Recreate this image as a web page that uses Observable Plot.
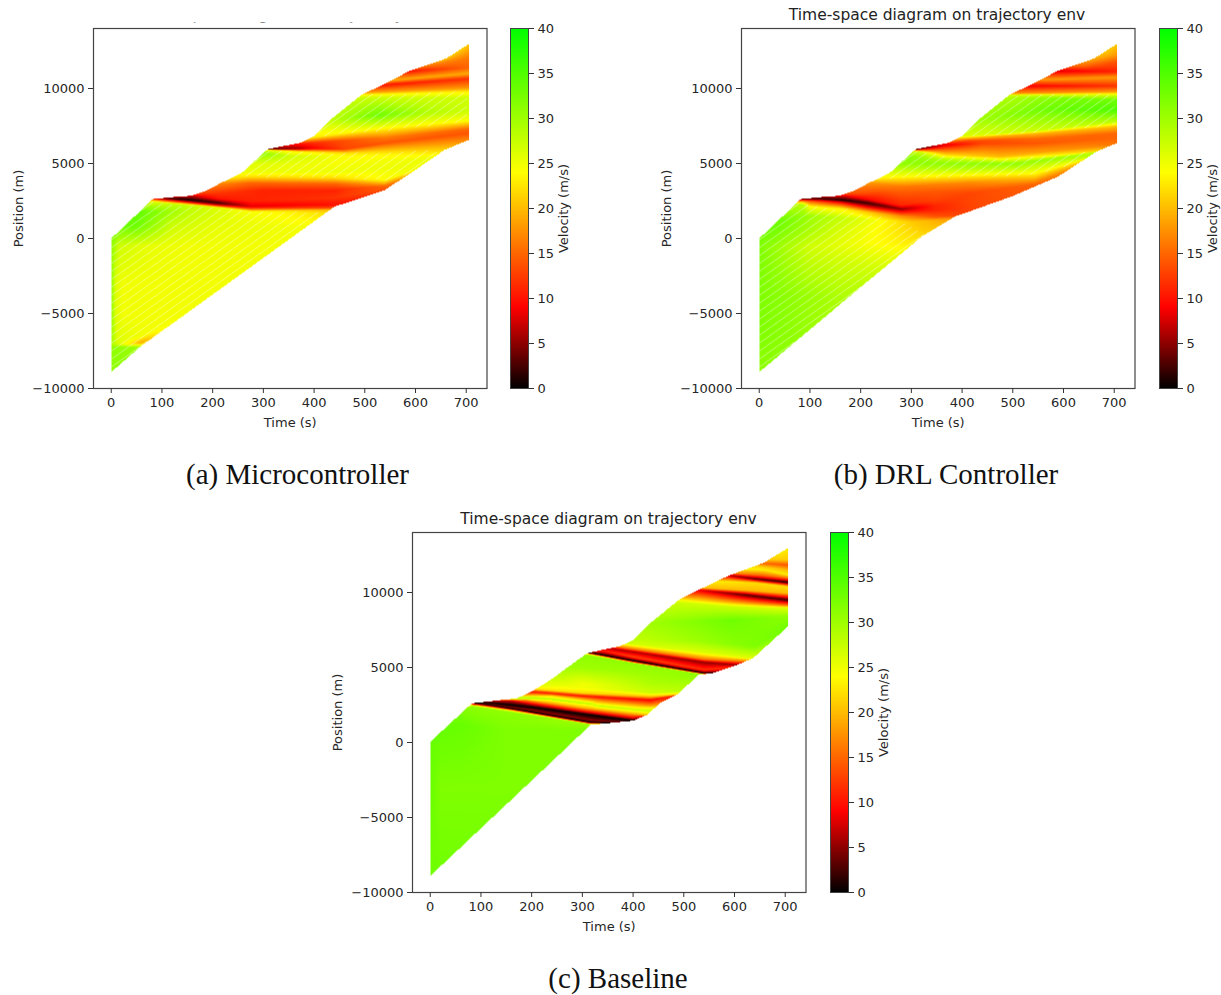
<!DOCTYPE html>
<html><head><meta charset="utf-8">
<script src="https://cdn.jsdelivr.net/npm/d3@7"></script>
<script src="https://cdn.jsdelivr.net/npm/@observablehq/plot@0.6"></script>
<style>
html,body{margin:0;padding:0;background:#fff}
#page{position:relative;width:1221px;height:995px;overflow:hidden}
.p{position:absolute}
.t{position:absolute;font:15.5px "DejaVu Sans";color:#222;white-space:nowrap;transform:translateX(-50%)}
.c{position:absolute;font:29px "Liberation Serif";color:#111;white-space:nowrap;transform:translateX(-50%)}
</style></head><body><div id="page"></div>
<script>
const titleText = "Time-space diagram on trajectory env";
const timeTicks = [0,100,200,300,400,500,600,700];
const posTicks = [-10000,-5000,0,5000,10000];
const velTicks = [0,5,10,15,20,25,30,35,40];
const velStops = [0,9,24,40];
const velColors = ["#000000","#ff0000","#ffff00","#00ff00"];

const upperMicro = [[0,0],[82,2630],[130,2790],[158,2850],[185,3150],[217,3720],[257,4360],[309,5970],[345,6200],[375,6390],[400,6820],[434,7960],[493,9570],[510,9860],[526,10080],[588,11170],[661,12010],[705,12970]];
const lowerMicro = [[0,-8900],[56,-7250],[85,-6540],[440,2120],[493,2700],[539,3230],[585,4230],[657,5900],[705,6570]];
const upperDrl = upperMicro;
const lowerDrl = [[0,-8900],[201,-3210],[273,-1210],[320,120],[385,1450],[497,2790],[589,4120],[665,5790],[705,6360]];
const upperBase = [[0,50],[82,2610],[130,2800],[171,2950],[200,3400],[237,4170],[309,5950],[345,6220],[375,6430],[400,6820],[434,7960],[490,9500],[510,9850],[529,10170],[588,11120],[657,11970],[705,12960]];
const lowerBase = [[0,-8900],[243,-1170],[316,1170],[400,1450],[427,1830],[454,2630],[486,3170],[529,4500],[558,4630],[605,5170],[637,5630],[705,7720]];

// velocity read along stripes: [time, position, velocity], ordered bottom to top
const stripesMicro = [
 [[0,-8900,31],[60,-8900,31]],
 [[0,-7250,31],[60,-7250,30]],
 [[0,-7050,29],[30,-7050,24],[60,-6950,19],[95,-6450,23],[130,-5900,24.6]],
 [[0,-6800,30],[12,-6800,26],[60,-6500,24.8],[130,-5200,24.6]],
 [[0,-5000,31],[9,-5000,26],[22,-5000,24.8],[705,-5000,24.6]],
 [[0,-3000,31],[9,-3000,26],[22,-3000,24.8],[705,-3000,24.6]],
 [[0,-500,31],[15,-500,27],[70,-500,25.5],[150,-500,24.8],[705,-500,24.5]],
 [[0,800,33],[50,800,33],[120,800,27],[200,800,25.5],[400,800,24.5]],
 [[50,1800,34],[85,1800,32],[150,1800,28],[250,1700,25],[440,1700,22]],
 [[82,2400,27],[138,2250,28],[210,2050,26],[276,1800,24],[440,1900,20]],
 [[82,2530,21],[138,2470,9],[210,2230,8],[276,2020,12],[440,2050,13]],
 [[82,2620,12],[110,2650,3],[138,2620,0.5],[210,2370,2],[276,2140,8],[440,2250,10],[539,3000,12],[600,3800,16]],
 [[110,2800,9],[160,2800,6],[210,2650,10],[276,2500,11],[440,2700,12],[539,3300,14],[600,4000,18]],
 [[170,3000,13],[300,3200,11],[440,3200,11],[539,3500,15],[620,4500,22]],
 [[210,3650,17],[276,3700,15],[440,3650,15],[539,3650,19],[620,4800,24]],
 [[230,4000,22],[276,4100,22],[440,4030,22],[539,3900,24],[600,4600,25]],
 [[260,4400,25],[440,4400,25],[640,5000,25]],
 [[280,5000,26],[440,4950,24.5],[640,5400,25]],
 [[300,5700,31],[350,5500,27],[460,5500,24],[660,5700,23]],
 [[309,5900,25],[370,5800,23],[460,5700,22],[705,6000,21]],
 [[309,5960,3],[370,5980,6],[400,6000,9],[460,5950,13],[539,6360,14],[705,7000,14]],
 [[345,6200,8],[400,6400,12],[539,6700,16],[705,7300,15]],
 [[388,6700,23],[539,7370,24],[705,7850,24]],
 [[434,7900,28],[526,8230,33],[620,8400,29],[705,8500,27]],
 [[493,9400,27],[705,9370,27]],
 [[493,9570,24],[705,9800,23]],
 [[500,9700,19],[705,10030,18]],
 [[532,10230,10],[705,10650,12]],
 [[540,10500,19],[705,11000,19]],
 [[588,11170,10],[705,11370,15]],
 [[600,11500,18],[705,12000,16]],
 [[650,12000,24],[705,12970,21]]
];
const stripesDrl = [
 [[0,-8900,31],[705,-8900,31]],
 [[0,-6100,32],[63,-6100,31],[162,-6100,29],[705,-6100,29]],
 [[0,-3880,32],[63,-3880,31],[162,-3880,29],[705,-3880,29]],
 [[0,-1640,32],[96,-1640,28],[162,-1640,27],[260,-1640,26],[705,-1640,26]],
 [[0,-550,32],[40,-550,30],[96,-550,27],[227,-300,24],[293,-300,23],[705,-300,23]],
 [[30,700,33],[70,700,31],[150,700,27],[227,500,24],[326,570,21],[400,1000,20]],
 [[43,1230,33],[100,1500,30],[200,1300,26],[300,1100,21],[385,1300,18]],
 [[86,2300,28],[100,2120,24],[162,2000,23],[214,1750,21],[280,1500,17],[345,1450,14],[400,1550,13]],
 [[86,2500,16],[162,2400,9],[214,2150,7],[280,1800,9],[345,1900,11],[420,2000,13],[497,2800,14]],
 [[86,2630,4],[120,2650,2],[162,2570,1],[214,2360,2],[280,1960,5],[345,2150,11],[412,2400,13],[497,3000,14]],
 [[120,2780,6],[170,2820,8],[214,2600,9],[280,2200,11],[345,2570,13],[412,3000,13],[543,3600,15],[589,4120,16]],
 [[170,3000,14],[230,3000,13],[280,3000,14],[412,3200,14],[543,3800,17],[620,4700,18]],
 [[217,3720,18],[280,3450,16],[412,3700,17],[543,4100,21],[640,5200,22]],
 [[240,4000,23],[280,4120,24],[412,4230,24],[543,4350,24],[640,5300,25]],
 [[280,4600,28],[412,4600,28],[510,4700,28],[640,5400,28]],
 [[290,5000,31],[412,5010,31],[510,5010,31],[609,5450,30],[665,5790,28]],
 [[300,5450,31],[365,5300,28],[477,5250,25],[665,5790,22]],
 [[313,5800,27],[365,5570,22],[477,5450,20],[705,6300,16]],
 [[313,5970,2],[365,6230,8],[440,6340,13],[543,6340,14],[705,6700,15]],
 [[340,6230,10],[412,6500,13],[543,6640,15],[705,7000,15]],
 [[392,6650,20],[543,7000,20],[705,7450,20]],
 [[392,6790,26],[543,7150,27],[705,7790,28]],
 [[434,7900,30],[560,8600,33],[705,8570,35]],
 [[493,9400,29],[600,9350,32],[705,9230,33]],
 [[493,9570,26],[705,9570,26]],
 [[500,9650,18],[705,9790,18]],
 [[530,10170,9],[705,10170,12]],
 [[570,10600,18],[705,10750,18]],
 [[591,11170,8],[705,11120,11]],
 [[640,11500,15],[705,11790,14]],
 [[650,12000,20],[705,12230,18]],
 [[680,12600,22],[705,12970,21]]
];
const stripesBase = [
 [[0,-8900,33],[705,-8900,32]],
 [[0,-3000,33.5],[20,-3000,32],[705,-3000,32]],
 [[0,500,33.5],[60,1200,33.5],[150,800,32],[300,800,32]],
 [[40,1800,33],[82,2400,31],[160,2000,31],[316,1200,30]],
 [[82,2500,24],[160,2120,24],[316,1220,26]],
 [[82,2560,12],[160,2190,12],[316,1270,10]],
 [[82,2600,6],[120,2480,0],[316,1350,0],[340,1300,0]],
 [[120,2530,4],[200,2150,5],[316,1480,5],[400,1300,4]],
 [[120,2620,0],[200,2360,0],[400,1450,0]],
 [[160,2800,8],[200,2560,8],[300,2080,9],[400,1650,9],[420,1700,8]],
 [[190,2850,19],[300,2330,20],[427,1800,19]],
 [[200,3000,29],[300,2600,29],[427,2100,27]],
 [[237,2850,25],[262,2720,25],[340,2450,26],[414,2250,25]],
 [[240,3100,22],[340,2750,18],[434,2500,17],[454,2630,16]],
 [[204,3370,10],[300,3100,10],[434,2830,9],[480,3100,11]],
 [[204,3560,22],[300,3300,22],[434,3050,20],[486,3200,22]],
 [[237,3750,25],[302,3700,25],[434,3300,27],[486,3400,28]],
 [[260,4200,27],[302,3830,24.5],[434,3900,29],[529,4500,31]],
 [[290,5000,30],[400,4700,30],[529,4540,31]],
 [[309,5800,31],[400,5300,31],[540,4520,30]],
 [[311,5900,25],[400,5300,25],[540,4550,22]],
 [[311,5990,0],[400,5440,0],[540,4600,0],[570,4620,2]],
 [[340,6110,11],[400,5700,13],[540,4830,12],[600,5000,12]],
 [[349,6300,6],[420,5950,6],[540,5350,5],[605,5170,5]],
 [[360,6420,16],[420,6120,16],[540,5540,16],[631,5400,17]],
 [[381,6630,27],[500,6130,26],[631,5630,26]],
 [[420,6830,28],[520,6800,30],[640,6400,32],[705,7720,33]],
 [[434,7960,30],[592,8170,33],[705,8390,31]],
 [[490,9350,27],[600,9050,27],[705,8950,26]],
 [[490,9500,24],[600,9300,20],[705,9170,15]],
 [[529,10170,8],[620,9850,3],[705,9500,2]],
 [[540,10300,20],[620,10150,20],[705,9950,20]],
 [[570,10750,23],[640,10650,22],[705,10390,22]],
 [[588,11150,6],[640,10900,3],[705,10670,1]],
 [[600,11280,17],[650,11150,15],[705,10950,15]],
 [[620,11600,24],[660,11500,23],[705,11170,23]],
 [[640,11800,21],[705,11500,20]],
 [[650,11950,15],[705,11830,14]],
 [[670,12200,21],[705,12170,21]],
 [[690,12700,23],[705,12960,23]]
];

function along(line, t, k) {
  const i = d3.bisector(d => d[0]).right(line, t);
  if (i <= 0) return line[0][k];
  if (i >= line.length) return line[line.length - 1][k];
  const a = line[i - 1], b = line[i], u = (t - a[0]) / (b[0] - a[0]);
  return a[k] + u * (b[k] - a[k]);
}
function field(stripes, lower, upper) {
  return (t, p) => {
    if (t < 0 || t > 705 || p < along(lower, t, 1) || p > along(upper, t, 1)) return NaN;
    const stops = stripes.map(s => [along(s, t, 1), along(s, t, 2)]);
    stops.sort((a, b) => a[0] - b[0]);
    return along(stops, p, 1);
  };
}
function hatch(f, limit) {
  const out = [];
  for (let c = -25000; c < 13000; c += 530) {
    for (let t = 0; t < 705; t += 6) {
      const p = c + 24 * t;
      const q = p + 24 * 6;
      const v = Math.min(f(t, p), f(t + 6, q));
      if (v >= limit) out.push({t1: t, p1: p, t2: t + 6, p2: q});
    }
  }
  return out;
}
const colorOpt = {type: "linear", domain: velStops, range: velColors, interpolate: "rgb"};
const ink = "#262626";
function panel(stripes, lower, upper, left, top, limit) {
  const f = field(stripes, lower, upper);
  const marks = [
    Plot.raster({fill: f, x1: -35, x2: 741, y1: -10000, y2: 14000, width: 394, height: 360}),
    Plot.frame({stroke: "#444", strokeWidth: 1.2}),
    Plot.axisX({ticks: timeTicks, tickSize: 5, tickPadding: 4, label: "Time (s)", labelAnchor: "center", labelArrow: "none", labelOffset: 38, stroke: "#333"}),
    Plot.axisY({ticks: posTicks, tickSize: 5, tickPadding: 4, tickFormat: d3.format("d"), label: "Position (m)", labelAnchor: "center", labelArrow: "none", labelOffset: 80, stroke: "#333"})
  ];
  if (limit != null) marks.splice(1, 0, Plot.link(hatch(f, limit), {x1: "t1", y1: "p1", x2: "t2", y2: "p2", stroke: "white", strokeOpacity: 0.32, strokeWidth: 1.1}));
  const svg = Plot.plot({
    width: 496, height: 450, marginLeft: 92, marginRight: 10.5, marginTop: 28, marginBottom: 62,
    style: {fontFamily: "DejaVu Sans", fontSize: "13px", color: ink, background: "transparent", overflow: "visible"},
    x: {domain: [-35, 741]}, y: {domain: [-10000, 14000]}, color: colorOpt, marks
  });
  svg.classList.add("p"); svg.style.left = left + "px"; svg.style.top = top + "px";
  return svg;
}
function colorbar(left, top) {
  const svg = Plot.plot({
    width: 80, height: 450, marginLeft: 0, marginRight: 62, marginTop: 28, marginBottom: 62,
    style: {fontFamily: "DejaVu Sans", fontSize: "13px", color: ink, background: "transparent", overflow: "visible"},
    x: {domain: [0, 1], axis: null}, y: {domain: [0, 40]}, color: colorOpt,
    marks: [
      Plot.raster({fill: (x, y) => y, x1: 0, x2: 1, y1: 0, y2: 40, width: 1, height: 360, imageRendering: "auto"}),
      Plot.frame({stroke: "#444", strokeWidth: 1}),
      Plot.axisY({anchor: "right", ticks: velTicks, tickSize: 5, tickPadding: 4, label: null, stroke: "#333"}),
      Plot.text(["Velocity (m/s)"], {frameAnchor: "right", rotate: -90, dx: 35, text: d => d, fontSize: 13, textAnchor: "middle"})
    ]
  });
  svg.classList.add("p"); svg.style.left = left + "px"; svg.style.top = top + "px";
  return svg;
}
function label(cls, text, x, y) {
  const d = document.createElement("div");
  d.className = cls; d.textContent = text; d.style.left = x + "px"; d.style.top = y + "px";
  return d;
}
const page = document.getElementById("page");
page.append(panel(stripesMicro, lowerMicro, upperMicro, 0.5, 0, 21.5), colorbar(510, 0));
page.append(panel(stripesDrl, lowerDrl, upperDrl, 648.5, 0, 21.5), colorbar(1159, 0));
page.append(panel(stripesBase, lowerBase, upperBase, 320, 504, null), colorbar(830, 504));
const clipped = label("t", titleText, 289, 6); clipped.style.clipPath = "inset(16.5px 0 0 0)";
page.append(clipped, label("t", titleText, 937, 6), label("t", titleText, 608.5, 510));
page.append(label("c", "(a) Microcontroller", 297.5, 458), label("c", "(b) DRL Controller", 946, 458), label("c", "(c) Baseline", 618, 962));
</script></body></html>
